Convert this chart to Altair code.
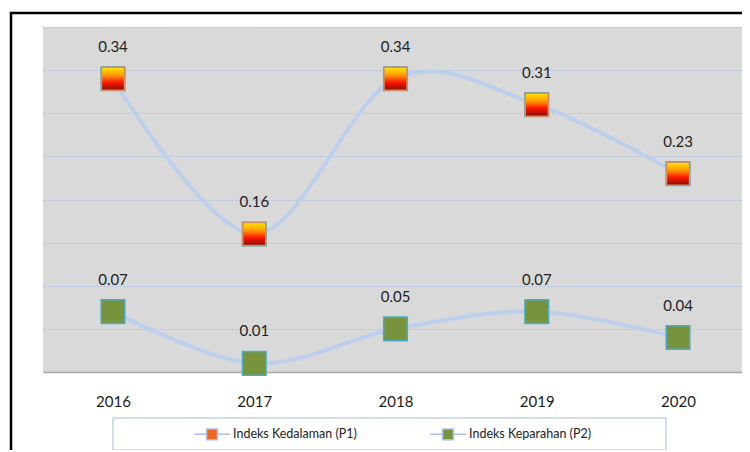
import altair as alt
import pandas as pd

years = ["2016", "2017", "2018", "2019", "2020"]
p1_values = [0.34, 0.16, 0.34, 0.31, 0.23]
p2_values = [0.07, 0.01, 0.05, 0.07, 0.04]
series_names = ["Indeks Kedalaman (P1)", "Indeks Keparahan (P2)"]
y_grid = [0.05, 0.10, 0.15, 0.20, 0.25, 0.30, 0.35, 0.40]

rows = []
for name, vals in zip(series_names, [p1_values, p2_values]):
    for yr, v in zip(years, vals):
        rows.append({"year": yr, "value": v, "series": name})
df = pd.DataFrame(rows)
one = pd.DataFrame({"k": [0]})

FONT = "Lato"

x_enc = alt.X(
    "year:O",
    scale=alt.Scale(type="point", padding=0.4743, align=0.5224),
    axis=alt.Axis(title=None, labelAngle=0, ticks=False, labelPadding=22,
                  labelFont=FONT, labelFontSize=15, labelColor="#1a1a1a",
                  domainColor="#A6A6A6", domainWidth=1.5, grid=False),
)
y_enc = alt.Y(
    "value:Q",
    scale=alt.Scale(domain=[0, 0.4], nice=False, zero=True),
    axis=alt.Axis(title=None, labels=False, ticks=False, domain=False,
                  grid=True, values=y_grid, gridColor="#A9C0E6",
                  gridDash=[2, 2], gridWidth=1.2),
)

base = alt.Chart(df)

lines = base.mark_line(interpolate="cardinal", strokeWidth=4, color="#BCD0EE").encode(
    x=x_enc, y=y_enc, detail="series:N"
)

legend_path = "M-1,0H-0.3M0.3,0H1M-0.3,-0.3H0.3V0.3H-0.3Z"

squares = base.mark_square(size=560, filled=True, opacity=1, stroke="#4BACC6", strokeWidth=1.5).encode(
    x=x_enc, y=y_enc,
    color=alt.Color(
        "series:N",
        scale=alt.Scale(domain=series_names, range=["#F0641E", "#77933C"]),
        legend=alt.Legend(
            orient="none", legendX=150, legendY=388, direction="horizontal",
            title=None, symbolType=legend_path, symbolSize=1296,
            symbolStrokeColor="#A9C0E6", symbolStrokeWidth=1.5,
            labelFont=FONT, labelFontSize=12.5, labelColor="#222222",
            columnPadding=70, labelOffset=2, padding=0, symbolOpacity=1,
        ),
    ),
)

grad = alt.LinearGradient(
    gradient="linear", x1=0, y1=0, x2=0, y2=1,
    stops=[
        alt.GradientStop(color="#FFE600", offset=0),
        alt.GradientStop(color="#FF9A00", offset=0.35),
        alt.GradientStop(color="#FF1A00", offset=0.65),
        alt.GradientStop(color="#8A0A00", offset=1),
    ],
)

p1_squares = base.transform_filter(
    alt.datum.series == series_names[0]
).mark_square(size=529, fill=grad, opacity=1, stroke="#C8926A", strokeWidth=1.5).encode(
    x=x_enc, y=y_enc
)

labels = base.mark_text(dy=-32, font=FONT, fontSize=15, color="#222222").encode(
    x=x_enc, y=y_enc, text=alt.Text("value:Q", format=".2f")
)

frame = alt.Chart(one).mark_rect(fill=None, stroke="#000000", strokeWidth=2.5).encode(
    x=alt.value(-32), x2=alt.value(900), y=alt.value(-14), y2=alt.value(700)
)

legend_box = alt.Chart(one).mark_rect(fill="#FFFFFF", stroke="#A6BDDB", strokeWidth=1).encode(
    x=alt.value(70), x2=alt.value(623), y=alt.value(391), y2=alt.value(423)
)

chart = alt.layer(
    frame, legend_box, lines, squares, p1_squares, labels
).properties(
    width=699, height=345,
    padding={"left": 35, "top": 19, "right": 0, "bottom": 78},
    autosize=alt.AutoSizeParams(type="none"),
).configure_view(
    fill="#D9D9D9", stroke=None
)

chart.save("out.html", embed_options={"renderer": "svg", "actions": False})
